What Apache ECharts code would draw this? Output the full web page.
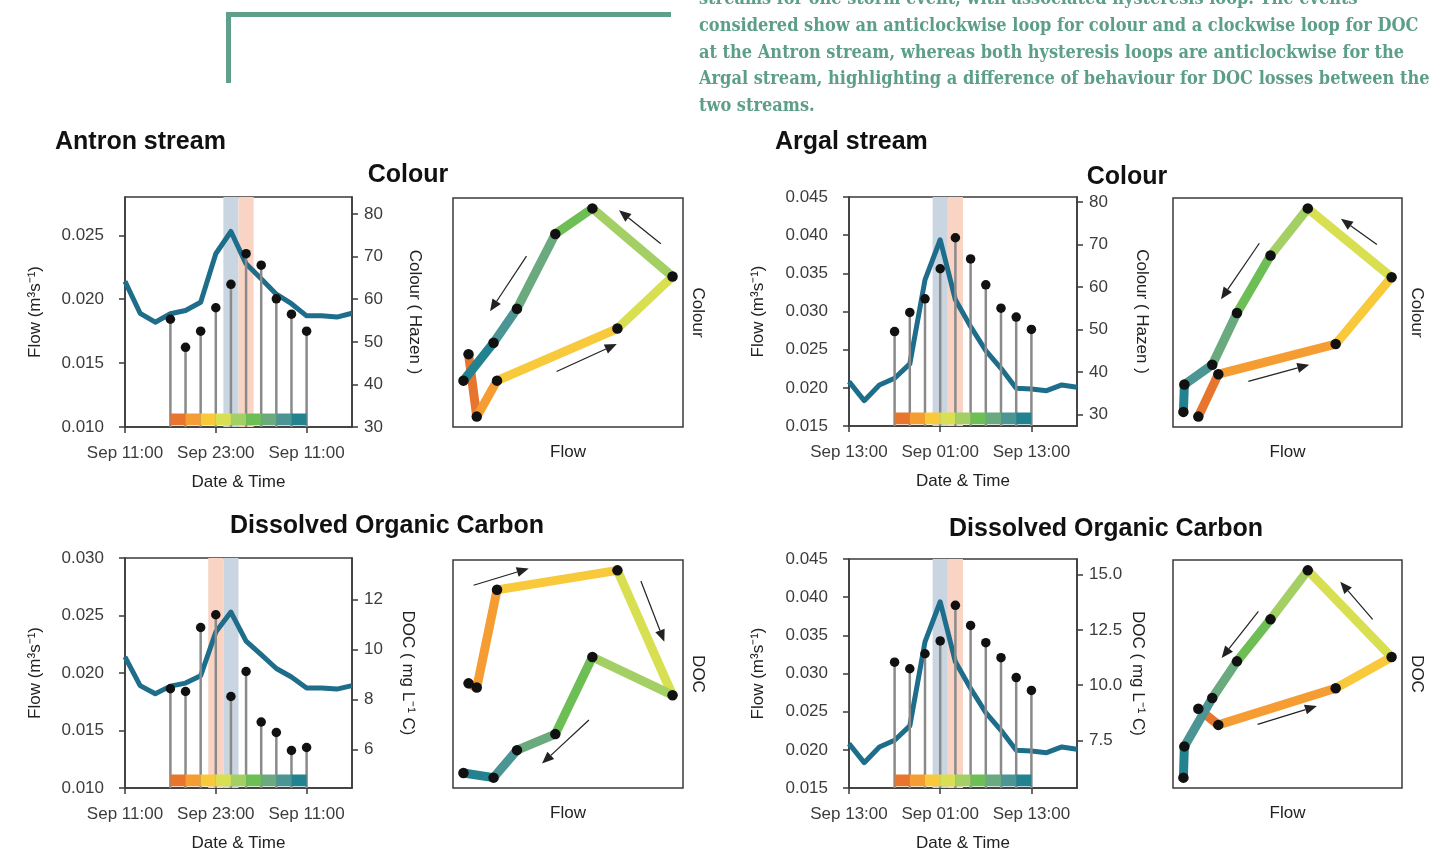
<!DOCTYPE html>
<html><head><meta charset="utf-8">
<script src="https://cdn.jsdelivr.net/npm/echarts@6/dist/echarts.min.js"></script>
<style>html,body{margin:0;padding:0;background:#fff}#c{width:1452px;height:854px}</style>
</head><body><div id="c"></div>
<script>
// ---------- data ----------
const flowHours = [0, 2, 4, 6, 8, 10, 12, 14, 16, 18, 20, 22, 24, 26, 28, 30];
const sampleHours = [6, 8, 10, 12, 14, 16, 18, 20, 22, 24];
const antronFlow = [0.0214, 0.0189, 0.0182, 0.01886, 0.01912, 0.01976, 0.02356, 0.0253, 0.02277, 0.0216, 0.02039, 0.01965, 0.0187, 0.0187, 0.0186, 0.0189];
const argalFlow = [0.02082, 0.01832, 0.02038, 0.02125, 0.02313, 0.03415, 0.0394, 0.03153, 0.02803, 0.02488, 0.02256, 0.01994, 0.01985, 0.01963, 0.02038, 0.02007];
const antronColour = [55.3, 48.7, 52.5, 58.0, 63.5, 70.7, 68.0, 60.1, 56.5, 52.5];
const antronDOC = [8.44, 8.33, 10.89, 11.4, 8.13, 9.13, 7.11, 6.69, 5.97, 6.09];
const argalColour = [49.5, 54.0, 57.2, 64.3, 71.6, 66.6, 60.5, 55.0, 52.9, 50.0];
const argalDOC = [11.04, 10.74, 11.42, 12.0, 13.61, 12.7, 11.92, 11.24, 10.34, 9.76];
const segmentColours = ['#e8752d', '#f59d33', '#f8c93b', '#d8e052', '#a4cf64', '#6cbe55', '#6ba97e', '#4b9594', '#22828f'];
const bandColours = ['#c9d5e1', '#f9d3c3'];
const antronTickLabels = ['Sep 11:00', 'Sep 23:00', 'Sep 11:00'];
const argalTickLabels = ['Sep 13:00', 'Sep 01:00', 'Sep 13:00'];
const timeTickHours = [0, 12, 24];
const flowTicksAntronColour = [0.010, 0.015, 0.020, 0.025];
const flowTicksAntronDOC = [0.010, 0.015, 0.020, 0.025, 0.030];
const flowTicksArgal = [0.015, 0.020, 0.025, 0.030, 0.035, 0.040, 0.045];
const colourTicks = [30, 40, 50, 60, 70, 80];
const antronDocTicks = [6, 8, 10, 12];
const argalDocTicks = [7.5, 10.0, 12.5, 15.0];
// hysteresis direction arrows [flowFrom, concFrom, flowTo, concTo]
const antronColourArrows = [[0.02493, 66.97, 0.02361, 70.5], [0.02069, 65.66, 0.01954, 59.83], [0.02164, 53.47, 0.02354, 56.37]];
const argalColourArrows = [[0.03802, 67.76, 0.03464, 70.5], [0.02698, 67.9, 0.02338, 61.96], [0.02595, 53.24, 0.03167, 55.0]];
const antronDocArrows = [[0.01902, 11.01, 0.02076, 11.45], [0.0243, 11.12, 0.02504, 9.53], [0.02266, 7.48, 0.02118, 6.34]];
const argalDocArrows = [[0.03762, 12.7, 0.03458, 13.4], [0.02689, 12.85, 0.02344, 11.98], [0.02682, 10.75, 0.03239, 11.09]];
const headerLines = [
  'streams for one storm event, with associated hysteresis loop. The events',
  'considered show an anticlockwise loop for colour and a clockwise loop for DOC',
  'at the Antron stream, whereas both hysteresis loops are anticlockwise for the',
  'Argal stream, highlighting a difference of behaviour for DOC losses between the',
  'two streams.'
];

// ---------- layout ----------
const FONT = '"Liberation Sans", Arial, Helvetica, sans-serif';
const HEAD_FONT = '"DejaVu Serif Condensed", "DejaVu Serif", serif';
const panels = [
  {flow: antronFlow, conc: antronColour, ticks: antronTickLabels, flowMin: 0.010, flowMax: 0.028, flowTicks: flowTicksAntronColour,
   concMin: 30, concMax: 84, concTicks: colourTicks, digits: 0, concName: 'Colour ( Hazen )', concShort: 'Colour', concGap: 54, flowGap: 81,
   arrows: antronColourArrows, ts: [125, 197, 227, 230], hy: [453, 198, 230, 229]},
  {flow: argalFlow, conc: argalColour, ticks: argalTickLabels, flowMin: 0.015, flowMax: 0.045, flowTicks: flowTicksArgal,
   concMin: 27.25, concMax: 81.2, concTicks: colourTicks, digits: 0, concName: 'Colour ( Hazen )', concShort: 'Colour', concGap: 56, flowGap: 82,
   arrows: argalColourArrows, ts: [849, 197, 228, 229], hy: [1173, 198, 229, 229]},
  {flow: antronFlow, conc: antronDOC, ticks: antronTickLabels, flowMin: 0.010, flowMax: 0.030, flowTicks: flowTicksAntronDOC,
   concMin: 4.47, concMax: 13.67, concTicks: antronDocTicks, digits: 0, concName: 'DOC ( mg L\u207B\u00B9 C)', concShort: 'DOC', concGap: 47, flowGap: 81,
   arrows: antronDocArrows, ts: [125, 558, 227, 230], hy: [453, 560, 230, 228]},
  {flow: argalFlow, conc: argalDOC, ticks: argalTickLabels, flowMin: 0.015, flowMax: 0.045, flowTicks: flowTicksArgal,
   concMin: 5.34, concMax: 15.71, concTicks: argalDocTicks, digits: 1, concName: 'DOC ( mg L\u207B\u00B9 C)', concShort: 'DOC', concGap: 52, flowGap: 82,
   arrows: argalDocArrows, ts: [849, 559, 228, 229], hy: [1173, 560, 229, 228]}
];

function padRange(arr) {
  const mn = Math.min(...arr), mx = Math.max(...arr), d = (mx - mn) * 0.05;
  return [mn - d, mx + d];
}
function argMax(arr) { let k = 0; arr.forEach((v, i) => { if (v > arr[k]) k = i; }); return k; }

const TICK_COLOR = '#3c3c3c', AXIS_COLOR = '#3a3a3a', NAME_COLOR = '#222';
const grids = [], xAxes = [], yAxes = [], series = [];

panels.forEach((p, k) => {
  const gT = grids.length;
  grids.push({left: p.ts[0], top: p.ts[1], width: p.ts[2], height: p.ts[3], show: true, borderColor: AXIS_COLOR, borderWidth: 1.5, containLabel: false});
  const gH = grids.length;
  grids.push({left: p.hy[0], top: p.hy[1], width: p.hy[2], height: p.hy[3], show: true, borderColor: AXIS_COLOR, borderWidth: 1.5, containLabel: false});

  // time-series axes
  const xT = xAxes.length;
  xAxes.push({
    gridIndex: gT, type: 'value', min: 0, max: 30,
    axisLine: {show: true, onZero: false, lineStyle: {color: AXIS_COLOR, width: 1.5}},
    axisTick: {show: true, customValues: timeTickHours, length: 6, lineStyle: {color: AXIS_COLOR, width: 1.5}},
    axisLabel: {show: true, customValues: timeTickHours, showMinLabel: true, showMaxLabel: true, margin: 18, fontSize: 17, color: TICK_COLOR, fontFamily: FONT,
      formatter: v => p.ticks[timeTickHours.indexOf(v)]},
    splitLine: {show: false},
    name: 'Date & Time', nameLocation: 'middle', nameGap: 47, nameTextStyle: {fontSize: 17, color: NAME_COLOR, fontFamily: FONT}
  });
  const yL = yAxes.length;
  yAxes.push({
    gridIndex: gT, type: 'value', position: 'left', min: p.flowMin, max: p.flowMax,
    axisLine: {show: true, onZero: false, lineStyle: {color: AXIS_COLOR, width: 1.5}},
    axisTick: {show: true, customValues: p.flowTicks, length: 6, lineStyle: {color: AXIS_COLOR, width: 1.5}},
    axisLabel: {show: true, customValues: p.flowTicks, showMinLabel: true, showMaxLabel: true, margin: 21, fontSize: 17, color: TICK_COLOR, fontFamily: FONT,
      formatter: v => v.toFixed(3)},
    splitLine: {show: false},
    name: 'Flow (m\u00B3s\u207B\u00B9)', nameLocation: 'middle', nameGap: p.flowGap, nameRotate: 90,
    nameTextStyle: {fontSize: 17, color: NAME_COLOR, fontFamily: FONT}
  });
  const yR = yAxes.length;
  yAxes.push({
    gridIndex: gT, type: 'value', position: 'right', min: p.concMin, max: p.concMax,
    axisLine: {show: true, onZero: false, lineStyle: {color: AXIS_COLOR, width: 1.5}},
    axisTick: {show: true, customValues: p.concTicks, length: 6, lineStyle: {color: AXIS_COLOR, width: 1.5}},
    axisLabel: {show: true, customValues: p.concTicks, showMinLabel: true, showMaxLabel: true, margin: 12, fontSize: 17, color: TICK_COLOR, fontFamily: FONT,
      formatter: v => v.toFixed(p.digits)},
    splitLine: {show: false},
    name: p.concName, nameLocation: 'middle', nameGap: p.concGap, nameRotate: -90,
    nameTextStyle: {fontSize: 17, color: NAME_COLOR, fontFamily: FONT}
  });

  // hysteresis axes
  const flowS = sampleHours.map(h => p.flow[flowHours.indexOf(h)]);
  const fr = padRange(flowS), cr = padRange(p.conc);
  const xH = xAxes.length;
  xAxes.push({
    gridIndex: gH, type: 'value', min: fr[0], max: fr[1],
    axisLine: {show: false}, axisTick: {show: false}, axisLabel: {show: false}, splitLine: {show: false},
    name: 'Flow', nameLocation: 'middle', nameGap: 17, nameTextStyle: {fontSize: 17, color: NAME_COLOR, fontFamily: FONT}
  });
  const yH = yAxes.length;
  yAxes.push({
    gridIndex: gH, type: 'value', position: 'right', min: cr[0], max: cr[1],
    axisLine: {show: false}, axisTick: {show: false}, axisLabel: {show: false}, splitLine: {show: false},
    name: p.concShort, nameLocation: 'middle', nameGap: 6, nameRotate: -90,
    nameTextStyle: {fontSize: 17, color: NAME_COLOR, fontFamily: FONT}
  });

  // bands: flow peak +-1h (blue), concentration peak +-1h (salmon)
  const fPk = flowHours[argMax(p.flow)], cPk = sampleHours[argMax(p.conc)];
  series.push({
    type: 'custom', xAxisIndex: xT, yAxisIndex: yR, z: 1, silent: true,
    data: [[fPk - 1, fPk + 1, 0], [cPk - 1, cPk + 1, 1]],
    renderItem: (params, api) => {
      const cs = params.coordSys;
      const x0 = api.coord([api.value(0), p.concMin])[0];
      const x1 = api.coord([api.value(1), p.concMin])[0];
      return {type: 'rect', shape: {x: x0, y: cs.y, width: x1 - x0, height: cs.height}, style: {fill: bandColours[api.value(2)]}};
    }
  });
  // flow line
  series.push({
    type: 'line', xAxisIndex: xT, yAxisIndex: yL, z: 3, silent: true,
    data: flowHours.map((h, i) => [h, p.flow[i]]),
    showSymbol: false, symbol: 'none',
    lineStyle: {color: '#1d6d8b', width: 5, join: 'round'}
  });
  // stems
  series.push({
    type: 'custom', xAxisIndex: xT, yAxisIndex: yR, z: 4, silent: true,
    data: sampleHours.map((h, i) => [h, p.conc[i]]),
    renderItem: (params, api) => {
      const cs = params.coordSys;
      const top = api.coord([api.value(0), api.value(1)]);
      return {type: 'line', shape: {x1: top[0], y1: cs.y + cs.height, x2: top[0], y2: top[1]}, style: {stroke: '#8a8a8a', lineWidth: 2.5}};
    }
  });
  // dots
  series.push({
    type: 'scatter', xAxisIndex: xT, yAxisIndex: yR, z: 5, silent: true,
    data: sampleHours.map((h, i) => [h, p.conc[i]]),
    symbolSize: 9.5, itemStyle: {color: '#111', opacity: 1}
  });
  // colour bar
  series.push({
    type: 'custom', xAxisIndex: xT, yAxisIndex: yR, z: 6, silent: true,
    data: sampleHours.slice(0, -1).map((h, i) => [h, sampleHours[i + 1], i]),
    renderItem: (params, api) => {
      const cs = params.coordSys;
      const x0 = api.coord([api.value(0), p.concMin])[0];
      const x1 = api.coord([api.value(1), p.concMin])[0];
      const yb = cs.y + cs.height;
      return {type: 'rect', shape: {x: x0, y: yb - 13.5, width: x1 - x0, height: 11.8}, style: {fill: segmentColours[api.value(2)]}};
    }
  });

  // hysteresis segments
  series.push({
    type: 'custom', xAxisIndex: xH, yAxisIndex: yH, z: 3, silent: true,
    data: flowS.slice(0, -1).map((f, i) => [f, p.conc[i], flowS[i + 1], p.conc[i + 1], i]),
    renderItem: (params, api) => {
      const a = api.coord([api.value(0), api.value(1)]);
      const b = api.coord([api.value(2), api.value(3)]);
      return {type: 'line', shape: {x1: a[0], y1: a[1], x2: b[0], y2: b[1]},
        style: {stroke: segmentColours[api.value(4)], lineWidth: 9, lineCap: 'round'}};
    }
  });
  // hysteresis dots
  series.push({
    type: 'scatter', xAxisIndex: xH, yAxisIndex: yH, z: 5, silent: true,
    data: flowS.map((f, i) => [f, p.conc[i]]),
    symbolSize: 10.5, itemStyle: {color: '#111', opacity: 1}
  });
  // direction arrows (line + filled head)
  series.push({
    type: 'custom', xAxisIndex: xH, yAxisIndex: yH, z: 6, silent: true,
    data: p.arrows,
    renderItem: (params, api) => {
      const a = api.coord([api.value(0), api.value(1)]);
      const b = api.coord([api.value(2), api.value(3)]);
      const dx = b[0] - a[0], dy = b[1] - a[1], L = Math.hypot(dx, dy);
      const ux = dx / L, uy = dy / L, hl = 12, hw = 5;
      const bx = b[0] - ux * hl, by = b[1] - uy * hl;
      return {type: 'group', children: [
        {type: 'line', shape: {x1: a[0], y1: a[1], x2: bx, y2: by}, style: {stroke: '#222', lineWidth: 1.2}},
        {type: 'polygon', shape: {points: [[b[0], b[1]], [bx - uy * hw, by + ux * hw], [bx + uy * hw, by - ux * hw]]}, style: {fill: '#222'}}
      ]};
    }
  });
});

// header text sizing to fit the printed width
const ctx = document.createElement('canvas').getContext('2d');
ctx.font = 'bold 20px ' + HEAD_FONT;
const headW = ctx.measureText(headerLines[3]).width;
const headSize = Math.min(20, 20 * 731 / headW);
const headBaselines = [5, 31.7, 58.3, 85, 111.7];

const graphics = [
  {type: 'rect', shape: {x: 226, y: 12, width: 445, height: 5}, style: {fill: '#5f9f8b'}},
  {type: 'rect', shape: {x: 226, y: 12, width: 5, height: 71}, style: {fill: '#5f9f8b'}}
];
headerLines.forEach((t, i) => graphics.push({
  type: 'text', x: 699, y: headBaselines[i] - headSize * 0.3,
  style: {text: t, font: 'bold ' + headSize.toFixed(2) + 'px ' + HEAD_FONT, fill: '#5d9e89', verticalAlign: 'middle'}
}));
const titles = [
  ['Antron stream', 55, 142, 'left'], ['Colour', 408, 175, 'center'],
  ['Argal stream', 775, 142, 'left'], ['Colour', 1127, 177, 'center'],
  ['Dissolved Organic Carbon', 387, 526, 'center'], ['Dissolved Organic Carbon', 1106, 529, 'center']
];
titles.forEach(t => graphics.push({
  type: 'text', x: t[1], y: t[2],
  style: {text: t[0], fontSize: 25, fontWeight: 'bold', fontFamily: FONT, fill: '#111', align: t[3], verticalAlign: 'middle'}
}));

const chart = echarts.init(document.getElementById('c'), null, {renderer: 'canvas'});
chart.setOption({
  animation: false,
  backgroundColor: '#fff',
  textStyle: {fontFamily: FONT},
  grid: grids, xAxis: xAxes, yAxis: yAxes, series: series,
  graphic: graphics
});
</script></body></html>
